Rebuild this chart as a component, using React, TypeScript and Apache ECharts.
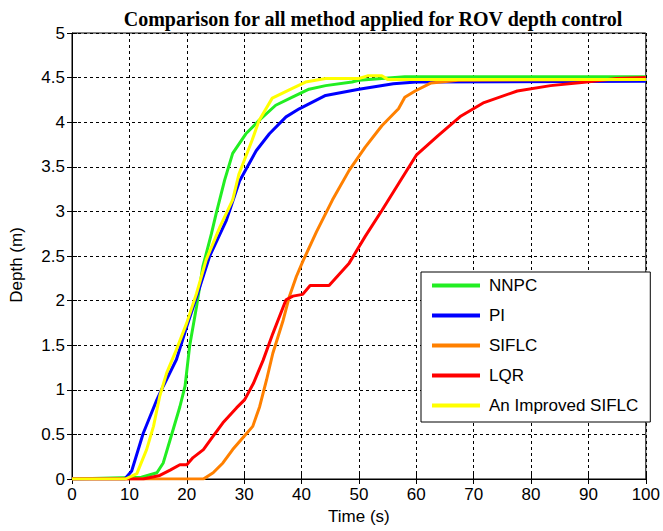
import React, { useEffect, useRef } from "react";
import * as echarts from "echarts";

const seriesNames = ["NNPC", "PI", "SIFLC", "LQR", "An Improved SIFLC"];
const seriesColors = ["#22ee22", "#0000ff", "#ff8000", "#ff0000", "#ffff00"];

const nnpcT = [0, 12.1, 14.8, 15.9, 17.1, 18.8, 19.7, 20.5, 21.7, 22.8, 24.3, 25.1, 26.6, 28, 30.3, 32.6, 35.5, 38.4, 41.3, 44.2, 48.8, 50, 58, 100];
const nnpcD = [0, 0.02, 0.07, 0.18, 0.44, 0.81, 1.04, 1.49, 1.93, 2.38, 2.75, 2.97, 3.35, 3.65, 3.87, 4.02, 4.19, 4.28, 4.37, 4.41, 4.45, 4.47, 4.51, 4.51];

const piT = [0, 9.2, 10.4, 12.4, 13.6, 14.8, 15.9, 18.2, 20, 22, 24, 26.9, 29.2, 32.1, 34.4, 37.3, 39.6, 44.2, 50, 56, 60, 100];
const piD = [0, 0, 0.09, 0.51, 0.7, 0.89, 1.04, 1.34, 1.71, 2.1, 2.5, 2.9, 3.34, 3.68, 3.87, 4.06, 4.15, 4.3, 4.37, 4.43, 4.45, 4.46];

const siflcT = [0, 22.9, 24.6, 26.3, 28, 30, 31.5, 32.7, 33.9, 35, 36.8, 37.9, 39.1, 40.3, 42.6, 45.4, 48.3, 51.1, 54, 56.9, 58, 59.8, 62.6, 67.3, 100];
const siflcD = [0, 0, 0.07, 0.18, 0.33, 0.48, 0.59, 0.81, 1.11, 1.41, 1.78, 2.05, 2.27, 2.45, 2.77, 3.13, 3.46, 3.72, 3.96, 4.15, 4.28, 4.35, 4.44, 4.47, 4.48];

const lqrT = [0, 12.4, 15.3, 17.1, 18.8, 20, 21.1, 22.9, 24.6, 26.3, 28.7, 30.1, 31.6, 33.3, 35, 37.3, 38.5, 40.2, 41.5, 44.8, 48.3, 51.1, 54, 56.9, 60, 63.8, 67.8, 71.8, 77.6, 83.4, 89.7, 94.9, 100];
const lqrD = [0, 0, 0.04, 0.1, 0.16, 0.16, 0.24, 0.33, 0.48, 0.63, 0.8, 0.89, 1.07, 1.33, 1.63, 2.01, 2.05, 2.07, 2.17, 2.17, 2.42, 2.72, 3.01, 3.31, 3.63, 3.85, 4.07, 4.22, 4.35, 4.41, 4.45, 4.49, 4.5];

const impT = [0, 9.3, 11.3, 13, 14.2, 15.3, 16.5, 18.2, 20, 21.7, 23.4, 25.8, 28, 29.1, 31.4, 32.6, 34.9, 38.4, 40.7, 44.2, 50, 51.5, 54, 55, 100];
const impD = [0, 0, 0.06, 0.33, 0.59, 0.93, 1.19, 1.45, 1.75, 2.08, 2.46, 2.83, 3.13, 3.42, 3.8, 4.02, 4.27, 4.38, 4.45, 4.49, 4.49, 4.52, 4.52, 4.48, 4.48];

const times = [nnpcT, piT, siflcT, lqrT, impT];
const depths = [nnpcD, piD, siflcD, lqrD, impD];

const sans = "Arial, 'Liberation Sans', sans-serif";
const serif = "'Times New Roman', 'Liberation Serif', serif";
const fs = 17;

const tickOnly = {
  show: true,
  axisLine: { show: false },
  axisTick: { show: true, inside: true, length: 5, lineStyle: { color: "#000" } },
  axisLabel: { show: false },
  splitLine: { show: false },
};

export default function App() {
  const ref = useRef<HTMLDivElement>(null);
  useEffect(() => {
    if (!ref.current) return;
    const chart = echarts.init(ref.current, null, { renderer: "svg" });
    const series = seriesNames.map((name, i) => ({
      name,
      type: "line",
      showSymbol: false,
      symbol: "none",
      data: times[i].map((t, j) => [t, depths[i][j]]),
      lineStyle: { color: seriesColors[i], width: 3 },
      itemStyle: { color: seriesColors[i] },
      z: 2 + i,
    }));
    chart.setOption({
      animation: false,
      backgroundColor: "#ffffff",
      title: {
        text: "Comparison for all method applied for ROV depth control",
        left: 368,
        textAlign: "center",
        top: 4,
        textStyle: { fontFamily: serif, fontWeight: "bold", fontSize: 20, color: "#000" },
      },
      grid: {
        left: 72,
        right: 14,
        top: 33,
        bottom: 52,
        show: true,
        borderColor: "#000",
        borderWidth: 1,
        backgroundColor: "#fff",
      },
      graphic: [
        {
          type: "text",
          x: 16,
          y: 265,
          rotation: Math.PI / 2,
          style: {
            text: "Depth (m)",
            fontFamily: sans,
            fontSize: fs,
            fill: "#000",
            textAlign: "center",
            textVerticalAlign: "middle",
          },
        },
      ],
      legend: {
        data: seriesNames.map((n) => ({ name: n, icon: "rect" })),
        orient: "vertical",
        left: 421,
        top: 272,
        padding: [5, 12, 8, 11],
        itemWidth: 48,
        itemHeight: 4,
        itemGap: 13,
        backgroundColor: "#fff",
        borderColor: "#000",
        borderWidth: 1,
        textStyle: { fontFamily: sans, fontSize: fs, lineHeight: 17, color: "#000", padding: [0, 0, 0, 4] },
      },
      xAxis: [
        {
          type: "value",
          min: 0,
          max: 100,
          interval: 10,
          name: "Time (s)",
          nameLocation: "middle",
          nameGap: 29,
          nameTextStyle: { fontFamily: sans, fontSize: fs, color: "#000" },
          axisLine: { show: true, lineStyle: { color: "#000" } },
          axisTick: { show: true, inside: true, length: 5, lineStyle: { color: "#000" } },
          axisLabel: { fontFamily: sans, fontSize: fs, color: "#000", margin: 7 },
          splitLine: { show: true, lineStyle: { color: "#000", type: [3, 3], width: 1 } },
        },
        { type: "value", position: "top", min: 0, max: 100, interval: 10, ...tickOnly },
      ],
      yAxis: [
        {
          type: "value",
          min: 0,
          max: 5,
          interval: 0.5,
          axisLine: { show: true, lineStyle: { color: "#000" } },
          axisTick: { show: true, inside: true, length: 5, lineStyle: { color: "#000" } },
          axisLabel: { fontFamily: sans, fontSize: fs, color: "#000", margin: 7 },
          splitLine: { show: true, lineStyle: { color: "#000", type: [3, 3], width: 1 } },
        },
        { type: "value", position: "right", min: 0, max: 5, interval: 0.5, ...tickOnly },
      ],
      series,
    });
    return () => chart.dispose();
  }, []);
  return <div ref={ref} style={{ width: 663, height: 531, position: "absolute", left: 0, top: 0 }} />;
}
